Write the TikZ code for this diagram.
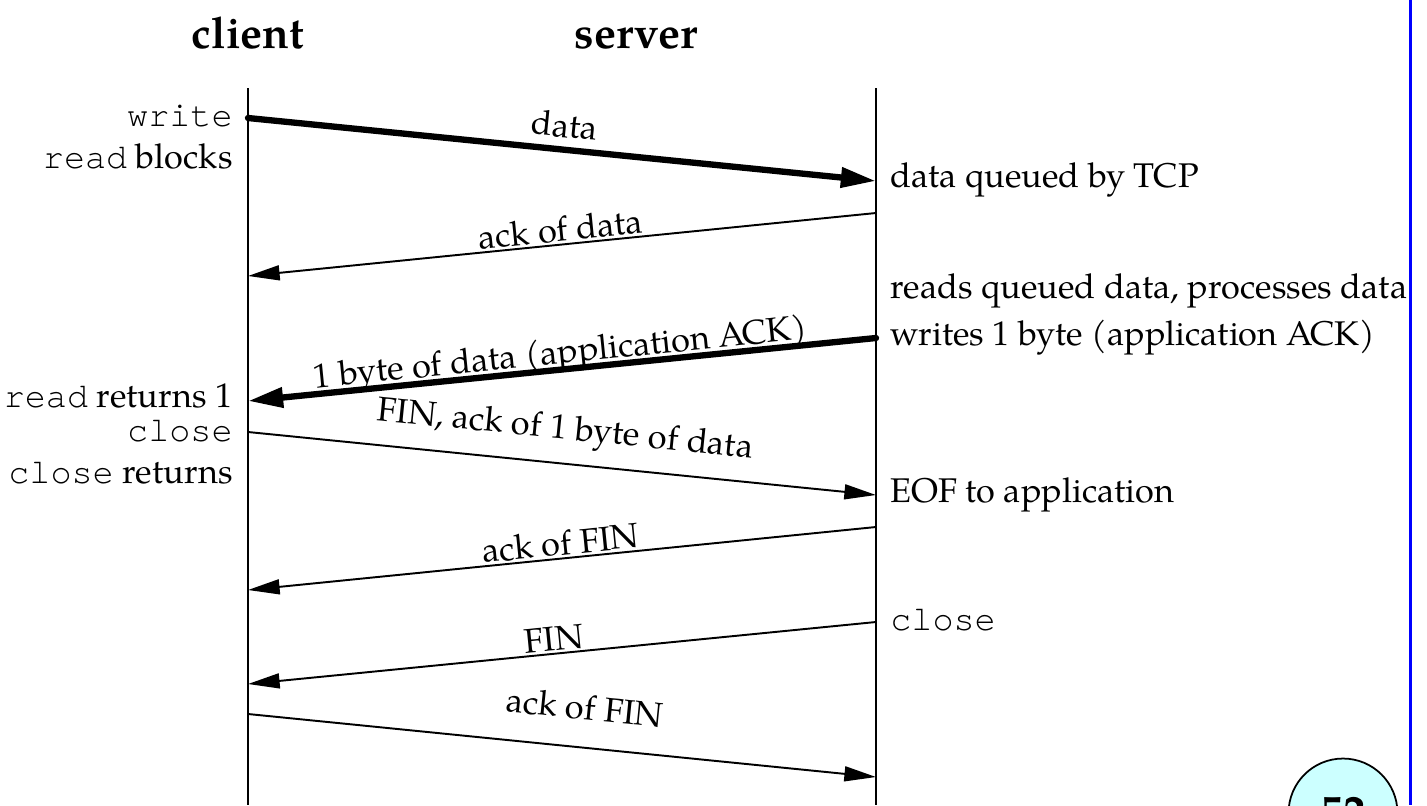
\documentclass[tikz,border=0pt]{standalone}
\usepackage{fontspec}
\setmainfont{TeX Gyre Pagella}
\setmonofont{TeX Gyre Cursor}
\usetikzlibrary{arrows.meta}

\tikzset{
  life/.style={line width=0.9pt},
  msg/.style={line width=1.1pt, -{Triangle[length=18pt,width=8.5pt]}},
  bigmsg/.style={line width=3.6pt, line cap=round, -{Triangle[length=20pt,width=11pt]}},
  lbl/.style={font=\fontsize{19.5}{22}\selectfont, sloped, above=#1, anchor=base, inner sep=0pt},
  lbl/.default=2pt,
  side/.style={font=\fontsize{19.5}{22}\selectfont, inner sep=0pt},
  title/.style={font=\fontsize{25}{28}\selectfont\bfseries, inner sep=0pt, anchor=base}
}
\newcommand{\code}[1]{{\fontsize{20}{20}\selectfont\ttfamily #1}}

\begin{document}
\begin{tikzpicture}[x=0.02cm, y=-0.02cm]
	\useasboundingbox (0,0) rectangle (1427,805);

	% titles
	\node[title] (client) at (248,48) {client};
	\node[title] (server) at (636,48) {server};

	% lifelines
	\coordinate (ctop) at (248,88);
	\coordinate (cbot) at (248,805);
	\coordinate (stop) at (876,88);
	\coordinate (sbot) at (876,805);
	\draw[life] (ctop) -- (cbot);
	\draw[life] (stop) -- (sbot);

	% message end points
	\coordinate (c1) at (248,118); \coordinate (s1) at (876,181);
	\coordinate (s2) at (876,213); \coordinate (c2) at (248,276);
	\coordinate (s3) at (876,338); \coordinate (c3) at (248,401);
	\coordinate (c4) at (248,432); \coordinate (s4) at (876,495);
	\coordinate (s5) at (876,527); \coordinate (c5) at (248,590);
	\coordinate (s6) at (876,622); \coordinate (c6) at (248,684);
	\coordinate (c7) at (248,714); \coordinate (s7) at (876,777);

	% messages
	\draw[bigmsg] (c1) -- node[lbl=7pt] (mdata) {data} (s1);
	\draw[msg] (s2) -- node[lbl] (mack) {ack of data} (c2);
	\draw[bigmsg] (s3) -- node[lbl=3.5pt] (mbyte) {1 byte of data (application ACK)} (c3);
	\draw[msg] (c4) -- node[lbl=14pt] (mfin) {FIN, ack of 1 byte of data} (s4);
	\draw[msg] (s5) -- node[lbl] (mackfin) {ack of FIN} (c5);
	\draw[msg] (s6) -- node[lbl, pos=0.51] (mfin2) {FIN} (c6);
	\draw[msg] (c7) -- node[lbl=16pt, pos=0.53] (mackfin2) {ack of FIN} (s7);

	% client side
	\node[side, anchor=base east] (wr) at (233,126) {\code{write}};
	\node[side, anchor=base east] (rdb) at (233,168) {\code{read} blocks};
	\node[side, anchor=base east] (rdr) at (233,407) {\code{read} returns 1};
	\node[side, anchor=base east] (cls) at (233,441) {\code{close}};
	\node[side, anchor=base east] (clsr) at (233,483) {\code{close} returns};

	% server side
	\node[side, anchor=base west] (dq) at (890,187) {data queued by TCP};
	\node[side, anchor=base west] (rq) at (890,298) {reads queued data, processes data};
	\node[side, anchor=base west] (wb) at (890,345) {writes 1 byte (application ACK)};
	\node[side, anchor=base west] (eof) at (890,502) {EOF to application};
	\node[side, anchor=base west] (scls) at (890,630) {\code{close}};

	% page frame and page number
	\draw[blue, line width=1.7pt] (1410,0) -- (1410,805);
	\node[circle, draw, line width=1pt, fill={rgb,255:red,204;green,255;blue,255},
	  minimum size=62pt, inner sep=0pt, font=\fontsize{26}{26}\selectfont\bfseries]
	  (pg) at (1343,813) {52};
\end{tikzpicture}
\end{document}
